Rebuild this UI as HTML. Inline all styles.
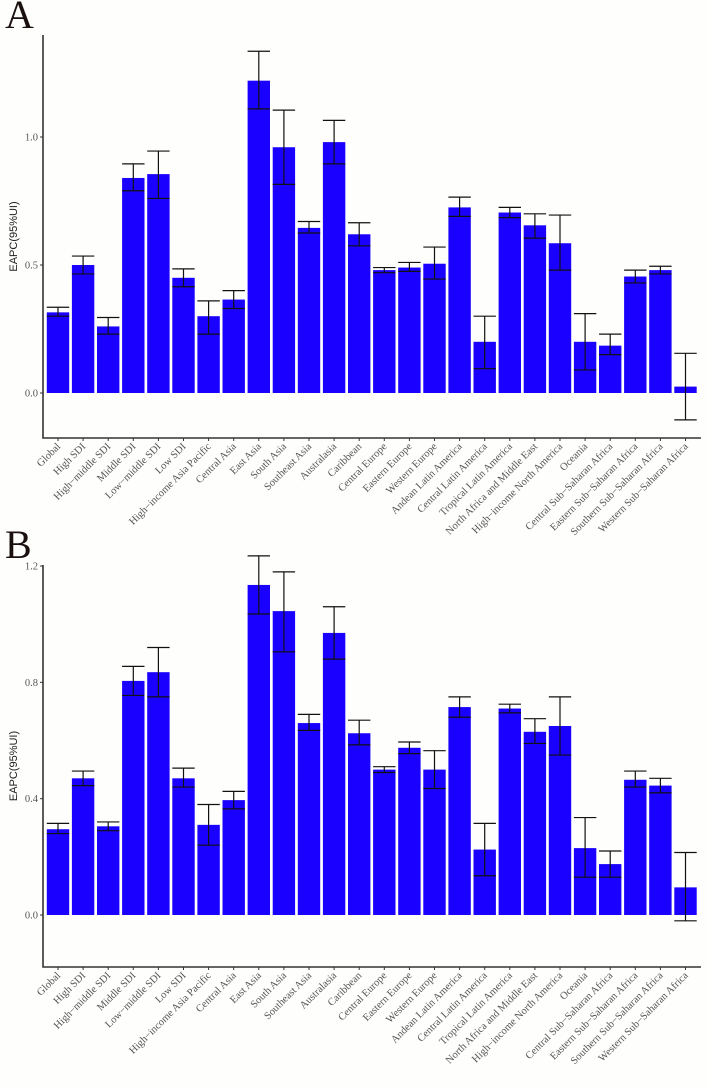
<!DOCTYPE html>
<html><head><meta charset="utf-8"><style>
html,body{margin:0;padding:0;background:#fefefd;}
svg{display:block;font-family:"Liberation Serif",serif;}
</style></head><body>
<svg id="chart" width="708" height="1089" viewBox="0 0 708 1089" xmlns="http://www.w3.org/2000/svg">
<rect width="708" height="1089" fill="#fefefd"/>
</svg>
<script>
const categories=["Global","High SDI","High\u2212middle SDI","Middle SDI","Low\u2212middle SDI","Low SDI","High\u2212income Asia Pacific","Central Asia","East Asia","South Asia","Southeast Asia","Australasia","Caribbean","Central Europe","Eastern Europe","Western Europe","Andean Latin America","Central Latin America","Tropical Latin America","North Africa and Middle East","High\u2212income North America","Oceania","Central Sub\u2212Saharan Africa","Eastern Sub\u2212Saharan Africa","Southern Sub\u2212Saharan Africa","Western Sub\u2212Saharan Africa"];
const valuesA=[0.315,0.50,0.26,0.84,0.855,0.45,0.30,0.365,1.22,0.96,0.645,0.98,0.62,0.48,0.49,0.505,0.725,0.20,0.705,0.655,0.585,0.20,0.185,0.455,0.48,0.025];
const lowerA=[0.30,0.465,0.23,0.79,0.76,0.415,0.23,0.33,1.11,0.815,0.625,0.895,0.575,0.47,0.475,0.445,0.69,0.095,0.685,0.605,0.48,0.09,0.15,0.43,0.465,-0.105];
const upperA=[0.335,0.535,0.295,0.895,0.945,0.485,0.36,0.40,1.335,1.105,0.67,1.065,0.665,0.49,0.51,0.57,0.765,0.30,0.725,0.70,0.695,0.31,0.23,0.48,0.495,0.155];
const ticksA=[0.0,0.5,1.0];
const tickLabelsA=["0.0","0.5","1.0"];
const valuesB=[0.295,0.47,0.305,0.805,0.835,0.47,0.31,0.395,1.135,1.045,0.66,0.97,0.625,0.50,0.575,0.50,0.715,0.225,0.71,0.63,0.65,0.23,0.175,0.465,0.445,0.095];
const lowerB=[0.28,0.445,0.29,0.755,0.75,0.44,0.24,0.365,1.035,0.905,0.635,0.88,0.585,0.49,0.555,0.435,0.68,0.135,0.695,0.59,0.55,0.13,0.13,0.44,0.42,-0.02];
const upperB=[0.315,0.495,0.32,0.855,0.92,0.505,0.38,0.425,1.235,1.18,0.69,1.06,0.67,0.51,0.595,0.565,0.75,0.315,0.725,0.675,0.75,0.335,0.22,0.495,0.47,0.215];
const ticksB=[0.0,0.4,0.8,1.2];
const tickLabelsB=["0.0","0.4","0.8","1.2"];

const svg=document.getElementById('chart');
const NS="http://www.w3.org/2000/svg";
function mk(tag,attrs,parent){const e=document.createElementNS(NS,tag);for(const k in attrs)e.setAttribute(k,attrs[k]);(parent||svg).appendChild(e);return e;}

function panel(letter,letterY,top,bottom,y0px,pxPerUnit,vals,lo,hi,ticks,tlabels,key){
  const g=mk('g',{});
  
  
  const axX=43, step=25.1, firstX=58, bw=22.4;
  const xs=i=>firstX+i*step;
  const ys=v=>y0px-v*pxPerUnit;
  const L=mk('text',{x:5,y:letterY,'font-size':40,fill:'#1a1010'},g);L.textContent=letter;
  
  
  vals.forEach((v,i)=>{
    const y=Math.min(ys(v),ys(0)),h=Math.abs(ys(v)-ys(0));
    const r=mk('rect',{x:xs(i)-bw/2,y:y,width:bw,height:h,fill:'#1a00ff'},g);
    
    
  });
  vals.forEach((v,i)=>{
    const eg=mk('g',{stroke:'#111','stroke-width':1.2},g);
    
    
    const x=xs(i);
    mk('line',{x1:x,x2:x,y1:ys(lo[i]),y2:ys(hi[i])},eg);
    mk('line',{x1:x-bw/2,x2:x+bw/2,y1:ys(lo[i]),y2:ys(lo[i])},eg);
    mk('line',{x1:x-bw/2,x2:x+bw/2,y1:ys(hi[i]),y2:ys(hi[i])},eg);
  });
  const ax=mk('path',{d:`M${axX},${top} V${bottom} H701`,fill:'none',stroke:'#333','stroke-width':1.6},g);
  
  
  ticks.forEach((t,i)=>{
    mk('line',{x1:axX-3,x2:axX,y1:ys(t),y2:ys(t),stroke:'#333','stroke-width':1},g);
    const tx=mk('text',{x:axX-5,y:ys(t)+3.5,'font-size':10.5,fill:'#555','text-anchor':'end'},g);
    tx.textContent=tlabels[i];
    
    
  });
  categories.forEach((c,i)=>{
    const x=xs(i);
    mk('line',{x1:x,x2:x,y1:bottom,y2:bottom+3,stroke:'#333','stroke-width':1},g);
    const tx=mk('text',{x:0,y:0,'font-size':10.5,fill:'#555','text-anchor':'end',transform:`translate(${x+3},${bottom+9}) rotate(-45)`},g);
    tx.textContent=c;
    
    
  });
  const yt=mk('text',{x:0,y:0,'font-size':11,fill:'#222','text-anchor':'middle','font-family':'Liberation Sans, sans-serif',transform:`translate(17,${(top+bottom)/2}) rotate(-90)`},g);
  yt.textContent='EAPC(95%UI)';
  
  
}
panel('A',28,35,438,393,256,valuesA,lowerA,upperA,ticksA,tickLabelsA,'a');
panel('B',558,565,967,915,290.8,valuesB,lowerB,upperB,ticksB,tickLabelsB,'b');
</script>
</body></html>
